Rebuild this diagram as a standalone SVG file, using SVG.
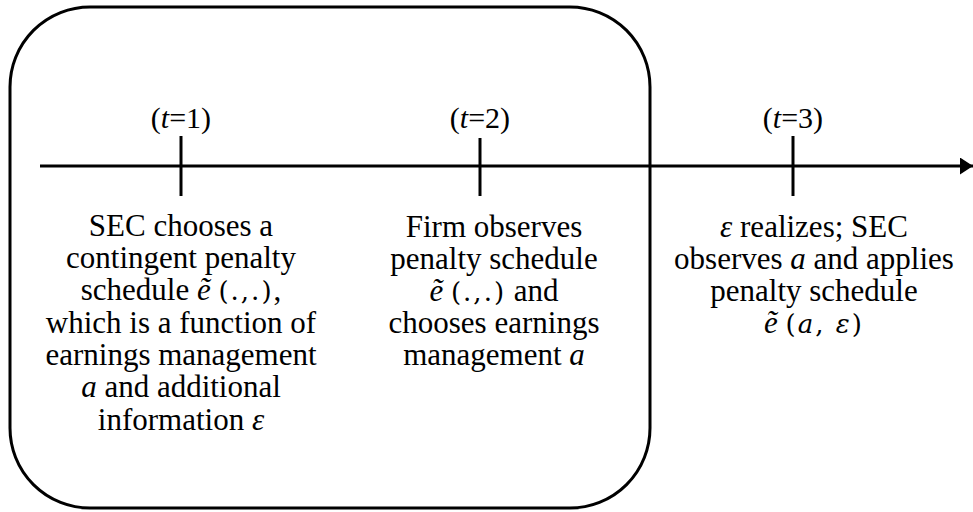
<svg xmlns="http://www.w3.org/2000/svg" width="973" height="512" viewBox="0 0 973 512">
<style>
text{font-family:"Liberation Serif","Times New Roman",serif;font-size:31px;fill:#000;text-anchor:middle}
.lbl{font-size:30px}
.i{font-style:italic}
.m{font-family:"DejaVu Serif","Liberation Serif",serif;font-size:26px;letter-spacing:2px}
.ln{stroke:#000;stroke-width:3;fill:none}
</style>
<defs>
<marker id="ah" markerWidth="13" markerHeight="17" refX="13" refY="8.5" orient="auto" markerUnits="userSpaceOnUse">
<path d="M0,0 L13,8.5 L0,17 Z" fill="#000"/>
</marker>
</defs>
<rect id="box" x="10" y="7" width="640" height="501" rx="80" ry="80" class="ln"/>
<g id="connectors">
<line x1="40" y1="166" x2="973" y2="166" class="ln" marker-end="url(#ah)"/>
<line x1="181" y1="136" x2="181" y2="196" class="ln"/>
<line x1="480" y1="138" x2="480" y2="196" class="ln"/>
<line x1="793" y1="136" x2="793" y2="196" class="ln"/>
</g>
<g id="t1">
<text x="181" y="128" class="lbl">(<tspan class="i">t</tspan>=1)</text>
<text x="181" y="236">SEC chooses a</text>
<text x="181" y="268">contingent penalty</text>
<text x="181" y="300">schedule  <tspan class="i">ẽ</tspan> <tspan class="m">(.,.)</tspan>,</text>
<text x="181" y="333">which is a function of</text>
<text x="181" y="365">earnings management</text>
<text x="181" y="397"><tspan class="i">a</tspan> and additional</text>
<text x="181" y="430">information <tspan class="i">ε</tspan></text>
</g>
<g id="t2">
<text x="480" y="128" class="lbl">(<tspan class="i">t</tspan>=2)</text>
<text x="494" y="237">Firm observes</text>
<text x="494" y="269">penalty schedule</text>
<text x="494" y="301"><tspan class="i">ẽ</tspan> <tspan class="m">(.,.)</tspan> and</text>
<text x="494" y="333">chooses earnings</text>
<text x="494" y="365">management <tspan class="i">a</tspan></text>
</g>
<g id="t3">
<text x="793" y="128" class="lbl">(<tspan class="i">t</tspan>=3)</text>
<text x="814" y="237"><tspan class="i">ε</tspan> realizes; SEC</text>
<text x="814" y="269">observes <tspan class="i">a</tspan> and applies</text>
<text x="814" y="301">penalty schedule</text>
<text x="814" y="333"><tspan class="i">ẽ</tspan> <tspan class="m">(<tspan class="i">a</tspan>, <tspan class="i">ε</tspan>)</tspan></text>
</g>
</svg>
